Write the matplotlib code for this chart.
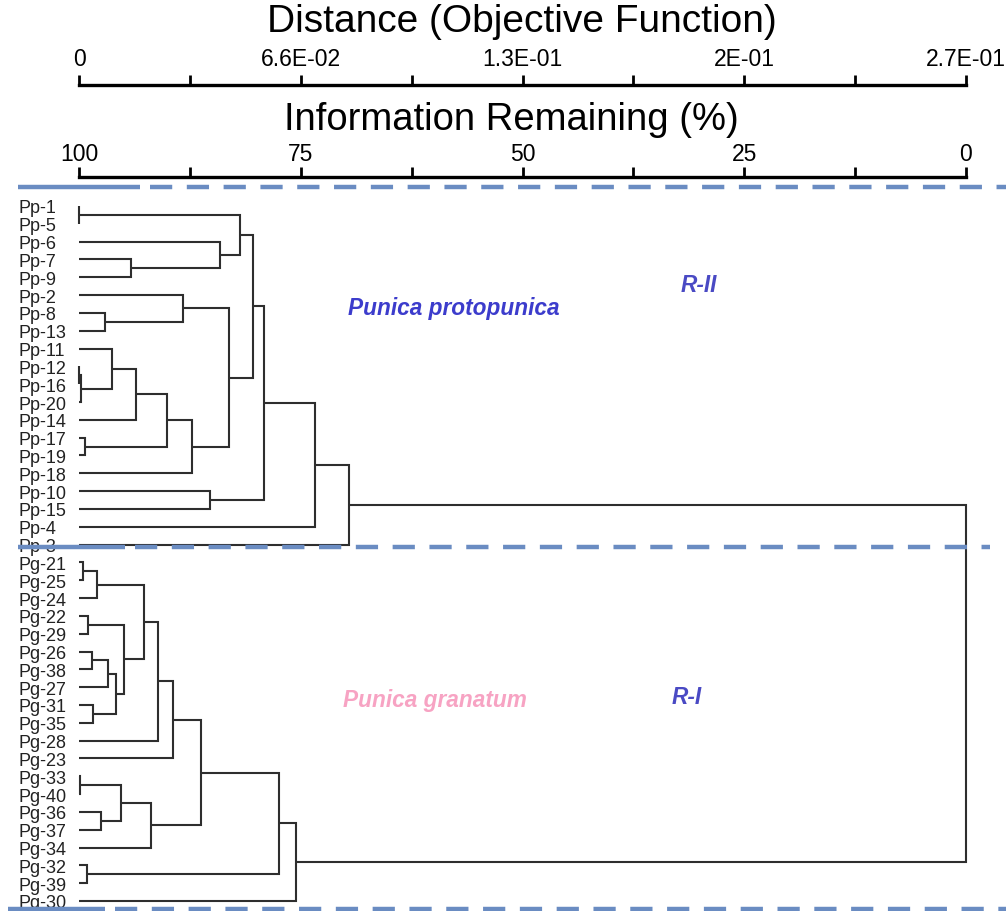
import numpy as np
import matplotlib
matplotlib.use("Agg")
import matplotlib.pyplot as plt
from matplotlib.lines import Line2D

plt.rcParams['font.family'] = ['Liberation Sans', 'DejaVu Sans']
plt.rcParams['lines.scale_dashes'] = False

# ---------------- data ----------------
leaves = ["Pp-1", "Pp-5", "Pp-6", "Pp-7", "Pp-9", "Pp-2", "Pp-8", "Pp-13", "Pp-11",
          "Pp-12", "Pp-16", "Pp-20", "Pp-14", "Pp-17", "Pp-19", "Pp-18", "Pp-10",
          "Pp-15", "Pp-4", "Pp-3",
          "Pg-21", "Pg-25", "Pg-24", "Pg-22", "Pg-29", "Pg-26", "Pg-38", "Pg-27",
          "Pg-31", "Pg-35", "Pg-28", "Pg-23", "Pg-33", "Pg-40", "Pg-36", "Pg-37",
          "Pg-34", "Pg-32", "Pg-39", "Pg-30"]

# merges: (left child, right child, information remaining % at the join)
merge_left = ["Pp-1", "Pp-7", "Pp-6", "c1", "Pp-8", "Pp-2", "Pp-12", "c7", "Pp-11",
              "c9", "Pp-17", "c10", "c12", "c6", "c4", "Pp-10", "c15", "c17", "c18",
              "Pg-21", "c20", "Pg-22", "Pg-26", "c23", "Pg-31", "c24", "c22", "c21",
              "c28", "c29", "Pg-33", "Pg-36", "c31", "c33", "c30", "Pg-32", "c35",
              "c37", "c19"]
merge_right = ["Pp-5", "Pp-9", "c2", "c3", "Pp-13", "c5", "Pp-16", "Pp-20", "c8",
               "Pp-14", "Pp-19", "c11", "Pp-18", "c13", "c14", "Pp-15", "c16", "Pp-4",
               "Pp-3",
               "Pg-25", "Pg-24", "Pg-29", "Pg-38", "Pg-27", "Pg-35", "c25", "c26",
               "c27", "Pg-28", "Pg-23", "Pg-40", "Pg-37", "c32", "Pg-34", "c34",
               "Pg-39", "c36", "Pg-30", "c38"]
merge_height = [99.95, 94.1, 84.1, 81.8, 97.1, 88.3, 99.95, 99.8, 96.3,
                93.6, 99.3, 90.1, 87.3, 83.1, 80.4, 85.2, 79.1, 73.4, 69.6,
                99.55, 98.0, 99.0, 98.55, 96.75, 98.4, 95.85, 94.9, 92.65,
                91.1, 89.35, 99.9, 97.55, 95.3, 91.9, 86.25, 99.15, 77.5,
                75.5, 0.0]

dist_labels = ["0", "6.6E-02", "1.3E-01", "2E-01", "2.7E-01"]
info_labels = ["100", "75", "50", "25", "0"]
dist_max = 0.266

# ---------------- figure ----------------
W, H = 1006, 912
fig = plt.figure(figsize=(W / 100, H / 100), dpi=100)

def fx(px):
    return px / W

def fy(py):
    return 1 - py / H

x0, x1 = 79, 966
row0, drow = 207, 17.82
ytop_px, ybot_px = 188, 912
ax = fig.add_axes([fx(x0), fy(ybot_px), fx(x1) - fx(x0), fy(ytop_px) - fy(ybot_px)])
ax.set_xlim(100, 0)
ax.set_ylim((ybot_px - row0) / drow, (ytop_px - row0) / drow)
for s in ax.spines.values():
    s.set_visible(False)
ax.set_xticks([])

pos = {name: (100.0, float(i)) for i, name in enumerate(leaves)}
lc = '#2e2e2e'
for k, (l, r, h) in enumerate(zip(merge_left, merge_right, merge_height)):
    hl, yl = pos[l]
    hr, yr = pos[r]
    ax.plot([hl, h, h, hr], [yl, yl, yr, yr], color=lc, lw=1.5,
            solid_joinstyle='miter', solid_capstyle='butt', clip_on=False)
    pos["c%d" % (k + 1)] = (h, (yl + yr) / 2)

ax.set_yticks(np.arange(len(leaves)))
ax.set_yticklabels(leaves, fontsize=13, color='#222222', ha='left')
ax.tick_params(axis='y', length=0, pad=(x0 - 18) * 0.72)

# annotations
ax.text(57.8, 5.72, "Punica protopunica", color='#3c3ccc', fontsize=16.3,
        fontweight='bold', fontstyle='italic', ha='center', va='center')
ax.text(30.1, 4.38, "R-II", color='#4a4ac4', fontsize=16.3,
        fontweight='bold', fontstyle='italic', ha='center', va='center')
ax.text(59.9, 27.7, "Punica granatum", color='#f7a3c3', fontsize=16.3,
        fontweight='bold', fontstyle='italic', ha='center', va='center')
ax.text(31.45, 27.5, "R-I", color='#4a4ac4', fontsize=16.3,
        fontweight='bold', fontstyle='italic', ha='center', va='center')

# ---------------- top scales ----------------
def scale_axis(line_px, lo, hi, labels, pad):
    a = fig.add_axes([fx(x0), fy(line_px + 10), fx(x1) - fx(x0), fy(line_px) - fy(line_px + 10)])
    a.set_xlim(lo, hi)
    a.patch.set_visible(False)
    for n, s in a.spines.items():
        s.set_visible(n == 'top')
    a.spines['top'].set_linewidth(2.4)
    a.set_yticks([])
    ticks = np.linspace(lo, hi, 9)
    a.set_xticks(ticks)
    lab = []
    for i in range(9):
        lab.append(labels[i // 2] if i % 2 == 0 else "")
    a.set_xticklabels(lab, fontsize=16.5)
    a.xaxis.set_ticks_position('top')
    a.tick_params(axis='x', direction='out', length=7.5, width=2, pad=pad,
                  top=True, bottom=False, labeltop=True, labelbottom=False)
    return a

scale_axis(86, 0, dist_max, dist_labels, 3.0)
scale_axis(178, 100, 0, info_labels, 1.0)
fig.text(fx(522), fy(22), "Distance (Objective Function)", fontsize=28,
         ha='center', va='center')
fig.text(fx(511), fy(120), "Information Remaining (%)", fontsize=27.5,
         ha='center', va='center')

# ---------------- dashed separators ----------------
dcol = '#6a8cc2'
for (ypx, xs, xsolid, xe) in [(188, 18, 140, 1006), (548, 18, 125, 990), (910, 8, 105, 1006)]:
    fig.add_artist(Line2D([fx(xs), fx(xsolid)], [fy(ypx), fy(ypx)], color=dcol, lw=3.2,
                          solid_capstyle='butt'))
    fig.add_artist(Line2D([fx(xsolid + 10), fx(xe)], [fy(ypx), fy(ypx)], color=dcol, lw=3.2,
                          linestyle=(0, (16, 10.5)), dash_capstyle='butt'))

fig.savefig("out.png", dpi=100)
